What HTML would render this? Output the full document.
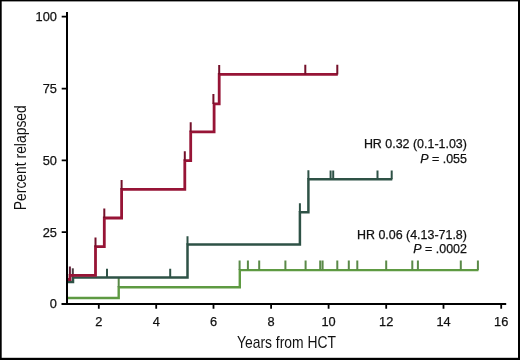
<!DOCTYPE html>
<html><head><meta charset="utf-8"><style>
html,body{margin:0;padding:0;background:#fff;}
body{width:520px;height:360px;overflow:hidden;}
svg{display:block;}
text{font-family:"Liberation Sans",sans-serif;fill:#111;}
svg{will-change:transform;}
</style></head><body>
<svg width="520" height="360" viewBox="0 0 520 360">
<rect x="0" y="0" width="520" height="360" fill="#fff"/>
<!-- border -->
<rect x="0" y="0" width="520" height="1.4" fill="#000"/>
<rect x="0" y="0" width="1.7" height="360" fill="#000"/>
<rect x="518" y="0" width="2" height="360" fill="#000"/>
<rect x="0" y="357.8" width="520" height="2.2" fill="#000"/>

<!-- curves -->
<g fill="none" stroke-linejoin="miter" stroke-linecap="butt">
<!-- light green -->
<path d="M68,298 H118.7 V287.2 H239.8 V270.1 H478.5" stroke="#5e9a42" stroke-width="2.4"/>
<path d="M118.7,287.2 V277.5 M239.6,270.1 V260.5 M247.9,270.1 V260.5 M259.2,270.1 V260.5 M285.4,270.1 V260.5 M305.6,270.1 V260.5 M320.2,270.1 V260.5 M322.6,270.1 V260.5 M337.3,270.1 V260.5 M348.8,270.1 V260.5 M357.3,270.1 V260.5 M386.2,270.1 V260.5 M412.3,270.1 V260.5 M417.9,270.1 V260.5 M460.8,270.1 V260.5 M477.9,270.1 V260.5" stroke="#5a8a48" stroke-width="2.0"/>
<!-- dark green -->
<path d="M68,282 H73 V277.4 H187.5 V244.6 H299.9 V212.2 H308.4 V179.2 H392.3" stroke="#2e5246" stroke-width="2.5"/>
<path d="M107,277.4 V268.8 M170.2,277.4 V268.8 M187.5,244.6 V236.2 M299.9,212.2 V203.2 M308.4,179.2 V170.2 M330.6,179.2 V170.5 M333.2,179.2 V170.5 M377.5,179.2 V170.5 M391.7,179.2 V170.5" stroke="#2e5246" stroke-width="2.0"/>
<!-- red -->
<path d="M69.9,275.3 V266.5" stroke="#65203a" stroke-width="2"/>
<path d="M72.8,277.4 V268.3" stroke="#4d3a40" stroke-width="2"/>
<path d="M68,279.5 H70 V275.3 H95.5 V246.7 H104.3 V218 H121.6 V189.4 H184.8 V160.7 H190.7 V131.8 H214.1 V103.9 H219.2 V74.4 H337.8" stroke="#971436" stroke-width="2.8"/>
<path d="M95.5,246.7 V237.5 M104.3,218 V208.6 M121.6,189.4 V180 M184.8,160.7 V151.3 M190.7,131.8 V122.3 M213.4,103.9 V94 M219.2,74.4 V64.9 M305.3,74.4 V64.7 M337.3,74.4 V64.7" stroke="#74102a" stroke-width="2.0"/>
</g>

<!-- axes -->
<g stroke="#000" fill="none">
<path d="M67,12 V304.8" stroke-width="2"/>
<path d="M61.5,303.9 H506.2" stroke-width="2"/>
<path d="M61.7,16.6 H67 M61.7,88.6 H67 M61.7,160.3 H67 M61.7,232.1 H67" stroke-width="1.8"/>
<path d="M98.8,303.9 V308.7 M156.2,303.9 V308.7 M213.5,303.9 V308.7 M271.1,303.9 V308.7 M328.6,303.9 V308.7 M386.2,303.9 V308.7 M443.5,303.9 V308.7 M501.2,303.9 V308.7" stroke-width="1.8"/>
</g>

<!-- y tick labels -->
<g font-size="12.8" text-anchor="end" stroke="#111" stroke-width="0.25">
<text x="56.9" y="21.0">100</text>
<text x="56.9" y="93.1">75</text>
<text x="56.9" y="164.8">50</text>
<text x="56.9" y="236.6">25</text>
<text x="56.9" y="308.4">0</text>
</g>
<!-- x tick labels -->
<g font-size="12.8" text-anchor="middle" stroke="#111" stroke-width="0.25">
<text x="98.8" y="325.8">2</text>
<text x="156.2" y="325.8">4</text>
<text x="213.5" y="325.8">6</text>
<text x="271.1" y="325.8">8</text>
<text x="328.6" y="325.8">10</text>
<text x="386.2" y="325.8">12</text>
<text x="443.5" y="325.8">14</text>
<text x="501.2" y="325.8">16</text>
</g>

<!-- axis titles -->
<text x="237" y="348.2" font-size="16.4" textLength="99" lengthAdjust="spacingAndGlyphs">Years from HCT</text>
<text transform="translate(26.2,210.2) rotate(-90)" x="0" y="0" font-size="16.6" textLength="105" lengthAdjust="spacingAndGlyphs">Percent relapsed</text>

<!-- annotations -->
<g font-size="12.45" text-anchor="end" stroke="#111" stroke-width="0.25">
<text x="466.9" y="147.8">HR 0.32 (0.1-1.03)</text>
<text x="466.9" y="162.6"><tspan font-style="italic">P</tspan> = .055</text>
<text x="466.9" y="238.5">HR 0.06 (4.13-71.8)</text>
<text x="466.9" y="253.1"><tspan font-style="italic">P</tspan> = .0002</text>
</g>
</svg>
</body></html>
